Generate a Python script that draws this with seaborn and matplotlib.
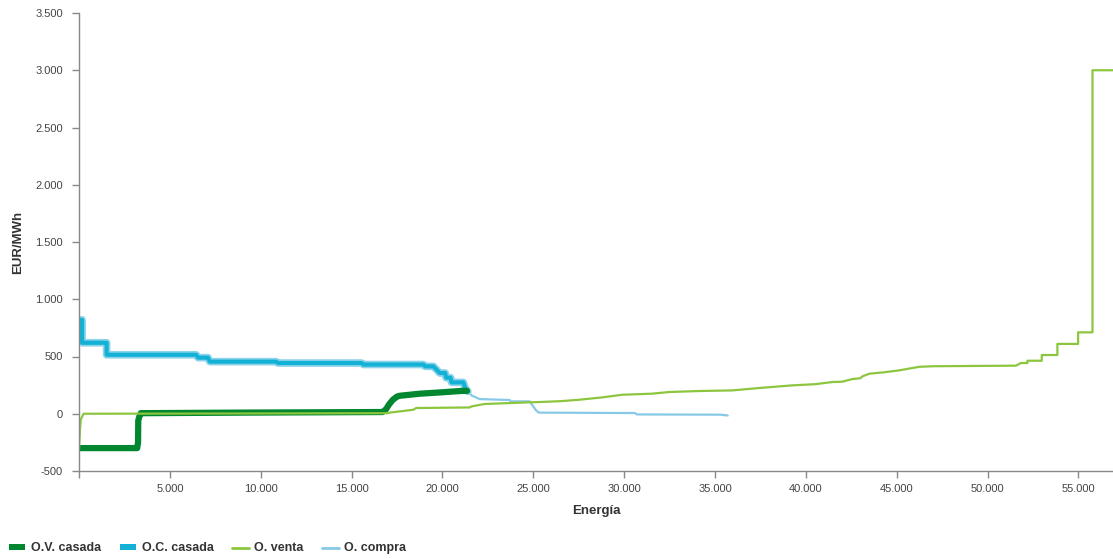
import numpy as np
import pandas as pd
import seaborn as sns
from matplotlib import pyplot as plt
from matplotlib import ticker
from matplotlib.patches import Patch
from matplotlib.lines import Line2D
import matplotlib.patheffects as pe

# Curvas agregadas (energia MWh, precio EUR/MWh)
ov_casada_e = [0, 3200, 3250, 3260, 3330, 3400, 9000, 16700, 16900, 17050, 17270, 17500, 17650,
               18750, 19850, 21100, 21350]
ov_casada_p = [-300, -300, -250, -60, -20, 5, 10, 15, 40, 79, 122, 150, 157,
               175, 186, 200, 200]

oc_casada_e = [0, 170, 170, 1520, 1520, 6450, 6550, 7100, 7200, 10850, 10950, 15550, 15650,
               18950, 19050, 19500, 19850, 20150, 20200, 20450, 20500, 21150, 21250, 21400]
oc_casada_p = [820, 820, 620, 620, 515, 515, 490, 490, 455, 455, 443, 443, 430,
               430, 414, 414, 356, 356, 315, 315, 274, 274, 227, 195]

o_venta_e = [0, 60, 100, 250, 17000, 17100, 18400, 18550, 21500, 21600, 22300, 24800, 25300,
             26500, 27500, 28800, 29900, 31500, 32500, 34000, 35960, 37440, 39260, 40500, 41460,
             42000, 42560, 43000, 43100, 43500, 44300, 45140, 45700, 46240, 47000, 51560, 51830,
             52190, 52190, 52980, 52980, 53840, 53840, 54980, 54980, 55770, 55770, 56900]
o_venta_p = [-300, -120, -50, 0, 5, 10, 35, 50, 55, 64, 85, 100, 102,
             110, 122, 143, 166, 175, 190, 198, 204, 225, 248, 258, 277,
             280, 303, 310, 326, 350, 362, 379, 395, 410, 415, 420, 443,
             443, 463, 463, 513, 513, 610, 610, 711, 711, 3000, 3000]

# la curva de compra coincide con la casada hasta el cruce
o_compra_e = oc_casada_e + [21600, 22050, 23700, 23750, 24800, 25150, 25300, 30600, 30700, 35300, 35700]
o_compra_p = oc_casada_p + [160, 128, 120, 108, 108, 30, 10, 6, -6, -8, -15]

c_ov = "#00872f"
c_oc = "#14b1d6"
c_venta = "#8cc63f"
c_compra = "#88c9e7"

sns.set_style("ticks")
plt.rcParams['font.family'] = ['Liberation Sans', 'DejaVu Sans']

fig = plt.figure(figsize=(11.13, 5.59), dpi=100)
ax = fig.add_axes([79 / 1113, 1 - 471 / 559, 1 - 79 / 1113, (471 - 13) / 559])

def draw(e, p, color, lw, halo=None):
    df = pd.DataFrame({"e": e, "p": p})
    sns.lineplot(data=df, x="e", y="p", ax=ax, color=color, linewidth=lw,
                 estimator=None, sort=False)
    if halo is not None:
        ax.lines[-1].set_path_effects([pe.Stroke(linewidth=lw + 2.5, foreground=halo), pe.Normal()])

draw(o_compra_e, o_compra_p, c_compra, 1.6)
draw(oc_casada_e, oc_casada_p, c_oc, 3.0, halo="#8dd3ea")
draw(ov_casada_e, ov_casada_p, c_ov, 4.5)
draw(o_venta_e, o_venta_p, c_venta, 1.6)

ax.set_xlim(0, 56900)
ax.set_ylim(-500, 3500)
ax.xaxis.set_major_locator(ticker.MultipleLocator(5000))
ax.yaxis.set_major_locator(ticker.MultipleLocator(500))
fmt_y = ticker.FuncFormatter(lambda v, _: f"{v:,.0f}".replace(",", "."))
fmt_x = ticker.FuncFormatter(lambda v, _: "" if v == 0 else f"{v:,.0f}".replace(",", "."))
ax.xaxis.set_major_formatter(fmt_x)
ax.yaxis.set_major_formatter(fmt_y)
ax.tick_params(axis="both", labelsize=8, colors="#888888", labelcolor="#444444", length=5, width=1)
ax.tick_params(axis="y", pad=6.5)
ax.tick_params(axis="x", pad=4.5)
sns.despine(ax=ax)
for s in ("left", "bottom"):
    ax.spines[s].set_color("#888888")
    ax.spines[s].set_linewidth(1)

ax.set_xlabel("Energía", fontsize=9.5, fontweight="bold", color="#333333")
ax.set_ylabel("EUR/MWh", fontsize=9.5, fontweight="bold", color="#333333")
ax.xaxis.set_label_coords(0.5, -40 / 458)
ax.xaxis.label.set_va("center")
ax.yaxis.set_label_coords(-61 / 1034, 0.5)
ax.yaxis.label.set_va("center")

handles = [
    Patch(facecolor=c_ov, edgecolor="none"),
    Patch(facecolor=c_oc, edgecolor="none"),
    Line2D([0], [0], color=c_venta, lw=2),
    Line2D([0], [0], color=c_compra, lw=2),
]
labels = ["O.V. casada", "O.C. casada", "O. venta", "O. compra"]
leg = fig.legend(handles, labels, loc="lower left", bbox_to_anchor=(-0.002, -0.012), ncol=4,
                 frameon=False, fontsize=9, handlelength=1.3, handleheight=0.45,
                 columnspacing=1.5, handletextpad=0.45)
for t in leg.get_texts():
    t.set_fontweight("bold")
    t.set_color("#333333")

fig.savefig("out.png", dpi=100)
